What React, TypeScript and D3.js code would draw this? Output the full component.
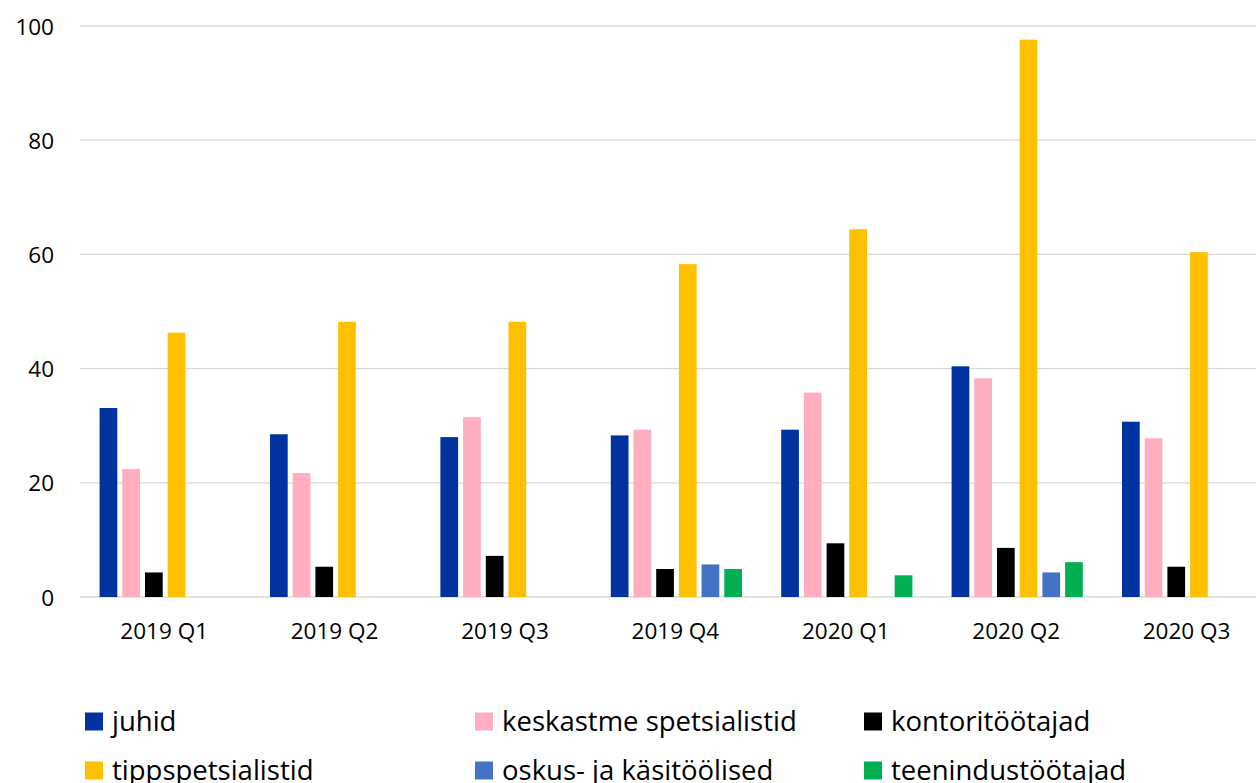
import React from "react";
import * as d3 from "d3";

const categories = ["2019 Q1", "2019 Q2", "2019 Q3", "2019 Q4", "2020 Q1", "2020 Q2", "2020 Q3"];
const seriesNames = [
  "juhid",
  "keskastme spetsialistid",
  "kontoritöötajad",
  "tippspetsialistid",
  "oskus- ja käsitöölised",
  "teenindustöötajad",
];
const seriesColors = ["#0033A0", "#FFAEC0", "#000000", "#FFC000", "#4472C4", "#00B050"];

const juhid = [33.1, 28.5, 28.0, 28.3, 29.3, 40.4, 30.7];
const keskastme = [22.4, 21.7, 31.5, 29.3, 35.8, 38.3, 27.8];
const kontori = [4.3, 5.3, 7.2, 4.9, 9.4, 8.6, 5.3];
const tipp = [46.3, 48.2, 48.2, 58.3, 64.4, 97.6, 60.4];
const oskus = [null, null, null, 5.7, null, 4.3, null];
const teenindus = [null, null, null, 4.9, 3.8, 6.1, null];
const seriesValues: (number | null)[][] = [juhid, keskastme, kontori, tipp, oskus, teenindus];

const yTicks = [0, 20, 40, 60, 80, 100];

export default function App() {
  const W = 1256;
  const H = 783;
  const x0 = d3.scaleBand<string>().domain(categories).range([80, 1272.8]).paddingInner(0).paddingOuter(0);
  const x1 = d3
    .scaleBand<string>()
    .domain(seriesNames)
    .range([0, x0.bandwidth()])
    .paddingInner(0.22)
    .paddingOuter(0.863);
  const y = d3.scaleLinear().domain([0, 100]).range([597, 26]);
  const font = "'Open Sans', 'Liberation Sans', sans-serif";

  const legendCols = [85, 475, 864];
  const legendRows = [712.5, 761.5];

  return (
    <svg
      width={W}
      height={H}
      style={{ position: "absolute", left: 0, top: 0, display: "block", background: "#fff" }}
      fontFamily={font}
    >
      <rect x={0} y={0} width={W} height={H} fill="#fff" />
      {yTicks.map((t) => (
        <g key={t}>
          <line x1={80} x2={W} y1={y(t)} y2={y(t)} stroke="#D9D9D9" strokeWidth={1.3} />
          <text x={54} y={y(t)} textAnchor="end" dominantBaseline="central" fontSize={22.5} fill="#000">
            {t}
          </text>
        </g>
      ))}
      {categories.map((c, ci) => (
        <g key={c} transform={`translate(${x0(c)},0)`}>
          {seriesNames.map((s, si) => {
            const v = seriesValues[si][ci];
            if (v == null) return null;
            return (
              <rect
                key={s}
                x={x1(s)}
                y={y(v)}
                width={x1.bandwidth()}
                height={y(0) - y(v)}
                fill={seriesColors[si]}
              />
            );
          })}
          <text x={x0.bandwidth() / 2 - 1} y={639} textAnchor="middle" fontSize={22.5} fill="#000">
            {c}
          </text>
        </g>
      ))}
      {seriesNames.map((s, i) => {
        const col = i % 3;
        const row = Math.floor(i / 3);
        const lx = legendCols[col];
        const ly = legendRows[row];
        return (
          <g key={s}>
            <rect x={lx} y={ly} width={18} height={18} fill={seriesColors[i]} />
            <text x={lx + 27} y={ly + 18} fontSize={27.5} fill="#000">
              {s}
            </text>
          </g>
        );
      })}
    </svg>
  );
}
